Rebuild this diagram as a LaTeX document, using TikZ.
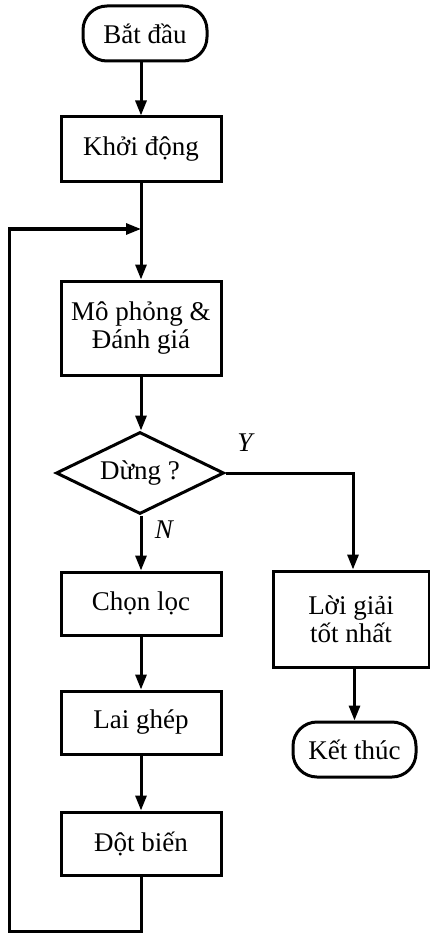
\documentclass[tikz,border=0pt]{standalone}
\usepackage{fontspec}
\setmainfont{Liberation Serif}
\usetikzlibrary{shapes.geometric,arrows.meta}
\begin{document}
\begin{tikzpicture}[x=1pt,y=-1pt,
  every node/.style={font=\fontsize{27}{28}\selectfont},
  arr/.style={line width=3pt,-{Triangle[length=15pt,width=11pt]}},
  proc/.style={draw,line width=3pt,rectangle,minimum width=160pt,inner sep=0pt,align=center},
  term/.style={draw,line width=3pt,rectangle,rounded corners=24pt,minimum height=55pt,inner sep=0pt,align=center},
  dec/.style={draw,line width=3pt,diamond,aspect=2,minimum width=168pt,minimum height=82pt,inner sep=0pt},
  lbl/.style={font=\fontsize{27}{28}\selectfont\itshape}]
\useasboundingbox (0,0) rectangle (430,933);
\node[term,minimum width=124pt] (start) at (145,33.5) {Bắt đầu};
\node[proc,minimum height=65pt] (khoi) at (141,149.5) {Khởi động};
\node[proc,minimum height=94pt] (mp) at (141,328) {Mô phỏng \&\\Đánh giá};
\node[dec] (dung) at (140,473) {Dừng ?};
\node[proc,minimum height=63pt] (chon) at (141,603.5) {Chọn lọc};
\node[proc,minimum height=63pt] (lai) at (141,722.5) {Lai ghép};
\node[proc,minimum height=63pt] (dot) at (141,843.5) {Đột biến};
\node[proc,minimum width=156pt,minimum height=96pt] (lg) at (351,619) {Lời giải\\tốt nhất};
\node[term,minimum width=123pt] (kt) at (354.5,749.5) {Kết thúc};
\node[lbl] (y) at (245,443) {Y};
\node[lbl] (n) at (164,530) {N};
\coordinate (j) at (141,229);
\coordinate (ra) at (353,473);
\coordinate (b1) at (141,931);
\coordinate (b2) at (9,931);
\coordinate (b3) at (9,229);
\draw[arr] (start.south -| khoi.north) -- (khoi.north);
\draw[arr] (khoi) -- (mp);
\draw[arr] (dot.south) -- (b1) -- (b2) -- (b3) -- (j);
\draw[arr] (mp) -- (dung.north -| mp.south);
\draw[arr] (dung.south -| chon.north) -- (chon);
\draw[arr] (chon) -- (lai);
\draw[arr] (lai) -- (dot);
\draw[arr] (dung.east) -- (ra) -- (ra |- lg.north);
\draw[arr] (lg.south -| kt.north) -- (kt);
\end{tikzpicture}
\end{document}
